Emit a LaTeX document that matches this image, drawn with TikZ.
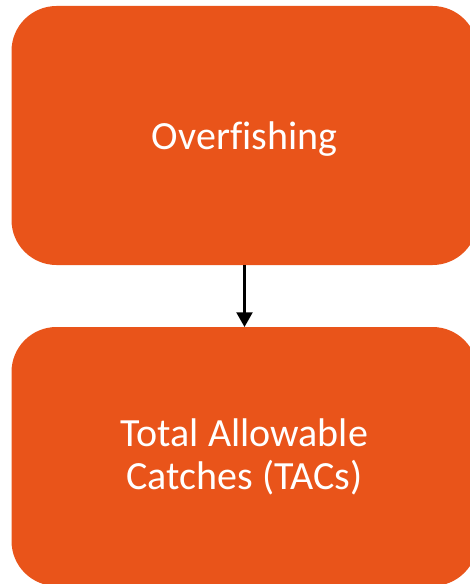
\documentclass[tikz,border=0pt]{standalone}
\usepackage{fontspec}
\setmainfont[Ligatures=NoCommon]{Carlito}
\usetikzlibrary{arrows.meta}
\definecolor{boxorange}{HTML}{E9541A}

\begin{document}
\begin{tikzpicture}[x=0.75pt, y=-0.75pt]
\tikzstyle{box}=[rectangle, rounded corners=33.75pt, fill=boxorange,
                        inner sep=0pt, outer sep=0pt, minimum width=349.5pt,
                        minimum height=194.25pt, text=white, align=center,
                        font=\fontsize{30}{32.25}\selectfont]
\useasboundingbox (0,0) rectangle (469,584);
	\node[box, text depth=0pt] (O) at (244.5,135.5){Overfishing};
	\node[box] (T) at (244.5,456.5){Total Allowable\\Catches (TACs)};
\draw[line width=1.6pt, -{Triangle[length=11pt, width=12pt]}] (O)--(T);
\end{tikzpicture}
\end{document}
